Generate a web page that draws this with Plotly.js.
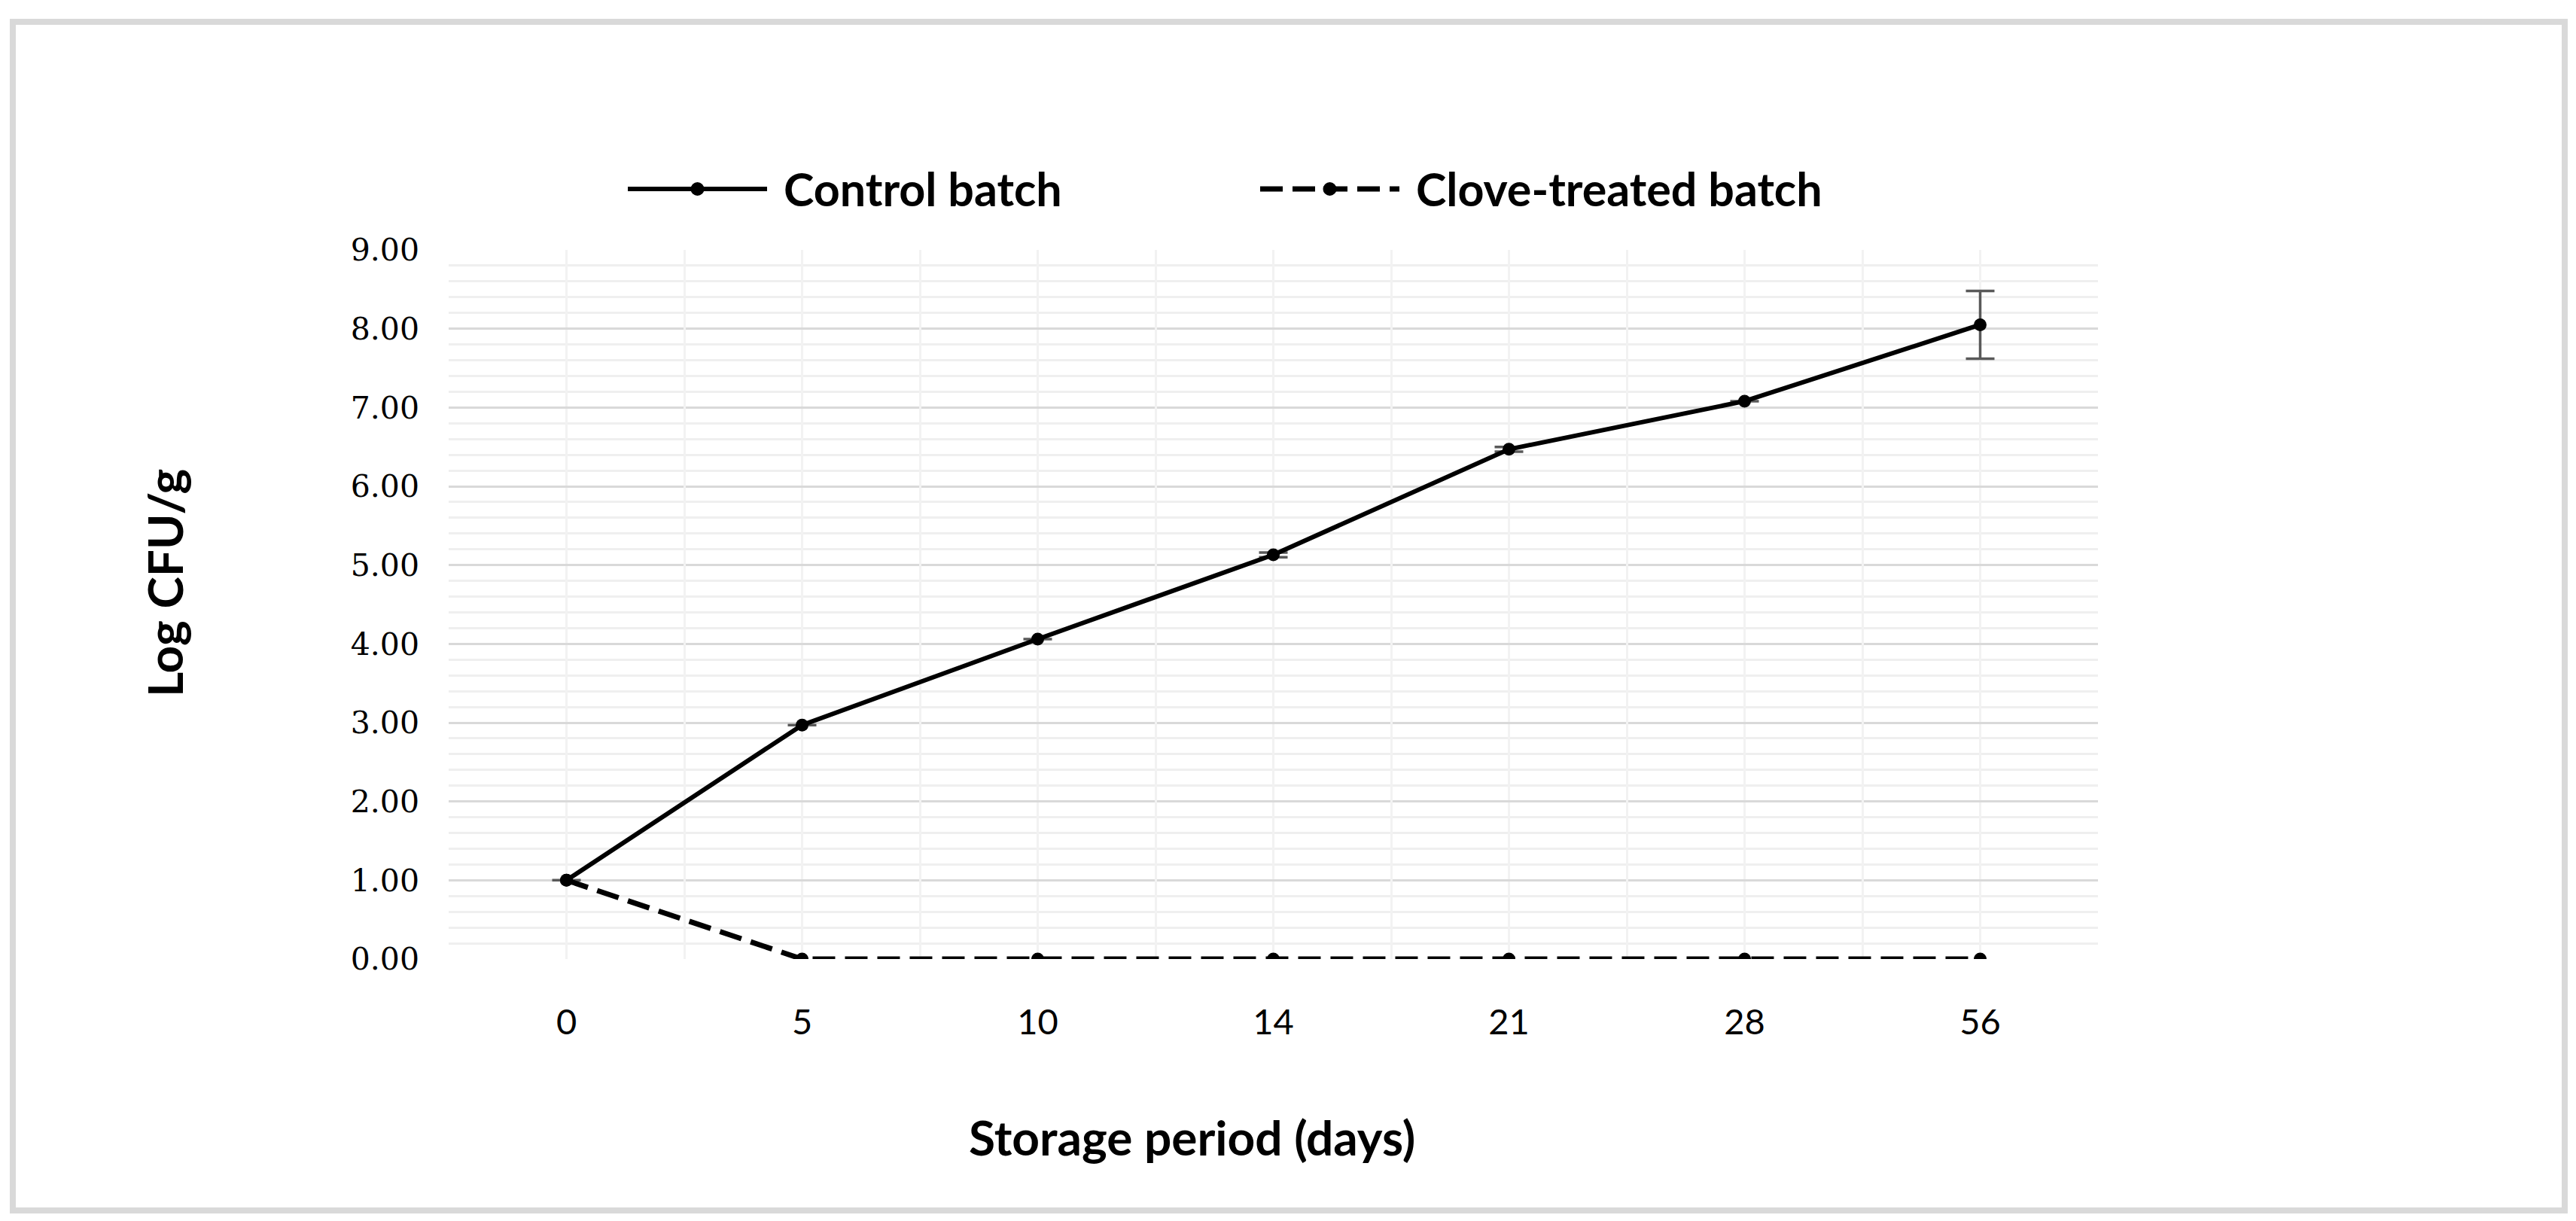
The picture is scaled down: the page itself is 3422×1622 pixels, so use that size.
<!DOCTYPE html>
<html>
<head>
<meta charset="utf-8">
<script src="https://cdn.plot.ly/plotly-3.0.1.min.js"></script>
<style>
html,body{margin:0;padding:0;background:#fff;}
#chart{width:3422px;height:1622px;}
</style>
</head>
<body>
<div id="chart"></div>
<script>
// ---- data ----
const days = ['0', '5', '10', '14', '21', '28', '56'];
const seriesNames = ['Control batch', 'Clove-treated batch'];
const controlLog = [1.00, 2.97, 4.06, 5.13, 6.47, 7.08, 8.05];
const controlErr = [0, 0, 0, 0.03, 0.03, 0, 0.43];
const cloveLog = [1.00, 0.00, 0.00, 0.00, 0.00, 0.00, 0.00];
const yTickVals = [0, 1, 2, 3, 4, 5, 6, 7, 8, 9];
const xTitle = 'Storage period (days)';
const yTitle = 'Log CFU/g';

// plot box in pixels (for paper conversion of decorations)
const W = 3422, H = 1622;
const L = 596, R = 2787, T = 332, B = 1274;
const px = x => (x - L) / (R - L);
const py = y => (B - y) / (B - T);

const boundaries = days.map((d, i) => i - 0.5).concat([days.length - 0.5]);
const dashPat = '30px,13px';

const traces = [
  {
    x: days, y: controlLog, name: seriesNames[0], type: 'scatter', mode: 'lines+markers',
    line: {color: '#000000', width: 6},
    marker: {color: '#000000', size: 17, symbol: 'circle'},
    error_y: {type: 'data', array: controlErr, visible: true, color: '#595959', thickness: 3.5, width: 19},
    showlegend: false
  },
  {
    x: days, y: cloveLog, name: seriesNames[1], type: 'scatter', mode: 'lines+markers',
    line: {color: '#000000', width: 7, dash: dashPat},
    marker: {color: '#000000', size: 17, symbol: 'circle'},
    showlegend: false
  },
  {
    x: [], y: [], xaxis: 'x2', yaxis: 'y', type: 'scatter', mode: 'lines',
    showlegend: false, hoverinfo: 'skip'
  }
];

const legendFont = {family: 'Lato, "Open Sans", sans-serif', size: 61, color: '#000000', weight: 'bold'};
const titleFont = {family: 'Lato, "Open Sans", sans-serif', size: 64, color: '#000000', weight: 'bold'};
const legendY = py(251);
const items = [
  {x0: 834, x1: 1019, tx: 1039, dash: 'solid', w: 6, name: seriesNames[0]},
  {x0: 1674, x1: 1859, tx: 1879, dash: dashPat, w: 7, name: seriesNames[1]}
];
const shapes = [
  {type: 'rect', xref: 'paper', yref: 'paper', x0: px(17), x1: px(3407), y0: py(1608), y1: py(29),
   line: {color: '#d9d9d9', width: 8}, fillcolor: 'rgba(0,0,0,0)', layer: 'below'}
];
const annotations = [];
items.forEach(it => {
  shapes.push({type: 'line', xref: 'paper', yref: 'paper', x0: px(it.x0), x1: px(it.x1), y0: legendY, y1: legendY,
    line: {color: '#000000', width: it.w, dash: it.dash}});
  const cx = px((it.x0 + it.x1) / 2);
  shapes.push({type: 'circle', xref: 'paper', yref: 'paper', xsizemode: 'pixel', ysizemode: 'pixel',
    xanchor: cx, yanchor: legendY, x0: -9, x1: 9, y0: -9, y1: 9,
    fillcolor: '#000000', line: {color: '#000000', width: 0}});
  annotations.push({xref: 'paper', yref: 'paper', x: px(it.tx), y: legendY, xanchor: 'left', yanchor: 'middle',
    text: '<b>' + it.name + '</b>', showarrow: false, font: legendFont});
});
annotations.push({xref: 'paper', yref: 'paper', x: px(1583), y: py(1510), xanchor: 'center', yanchor: 'middle',
  text: '<b>' + xTitle + '</b>', showarrow: false, font: titleFont});
annotations.push({xref: 'paper', yref: 'paper', x: px(218), y: py(775), xanchor: 'center', yanchor: 'middle',
  text: '<b>' + yTitle + '</b>', textangle: -90, showarrow: false, font: titleFont});

const layout = {
  width: W, height: H,
  paper_bgcolor: '#ffffff', plot_bgcolor: '#ffffff',
  margin: {l: L, r: W - R, t: T, b: H - B, pad: 0},
  showlegend: false,
  xaxis: {
    type: 'category', categoryorder: 'array', categoryarray: days,
    range: [-0.5, days.length - 0.5],
    showgrid: true, gridcolor: '#f2f2f2', gridwidth: 3,
    zeroline: false, showline: false, ticks: '',
    ticklabelstandoff: 52,
    tickfont: {family: 'Lato, "Open Sans", sans-serif', size: 47, color: '#000000'}
  },
  xaxis2: {
    overlaying: 'x', type: 'linear', range: [-0.5, days.length - 0.5],
    tickmode: 'array', tickvals: boundaries, showticklabels: false,
    showgrid: true, gridcolor: '#f2f2f2', gridwidth: 3,
    zeroline: false, showline: false, ticks: ''
  },
  yaxis: {
    range: [0, 9], tickmode: 'array', tickvals: yTickVals, tickformat: '.2f',
    showgrid: true, gridcolor: '#d9d9d9', gridwidth: 3,
    minor: {dtick: 0.2, tick0: 0, showgrid: true, gridcolor: '#efefef', gridwidth: 3, ticks: ''},
    zeroline: false, showline: false, ticks: '',
    ticklabelstandoff: 38,
    tickfont: {family: '"DejaVu Serif", serif', size: 41, color: '#000000'}
  },
  shapes: shapes,
  annotations: annotations
};

Plotly.newPlot('chart', traces, layout, {staticPlot: true, displayModeBar: false});
</script>
</body>
</html>
